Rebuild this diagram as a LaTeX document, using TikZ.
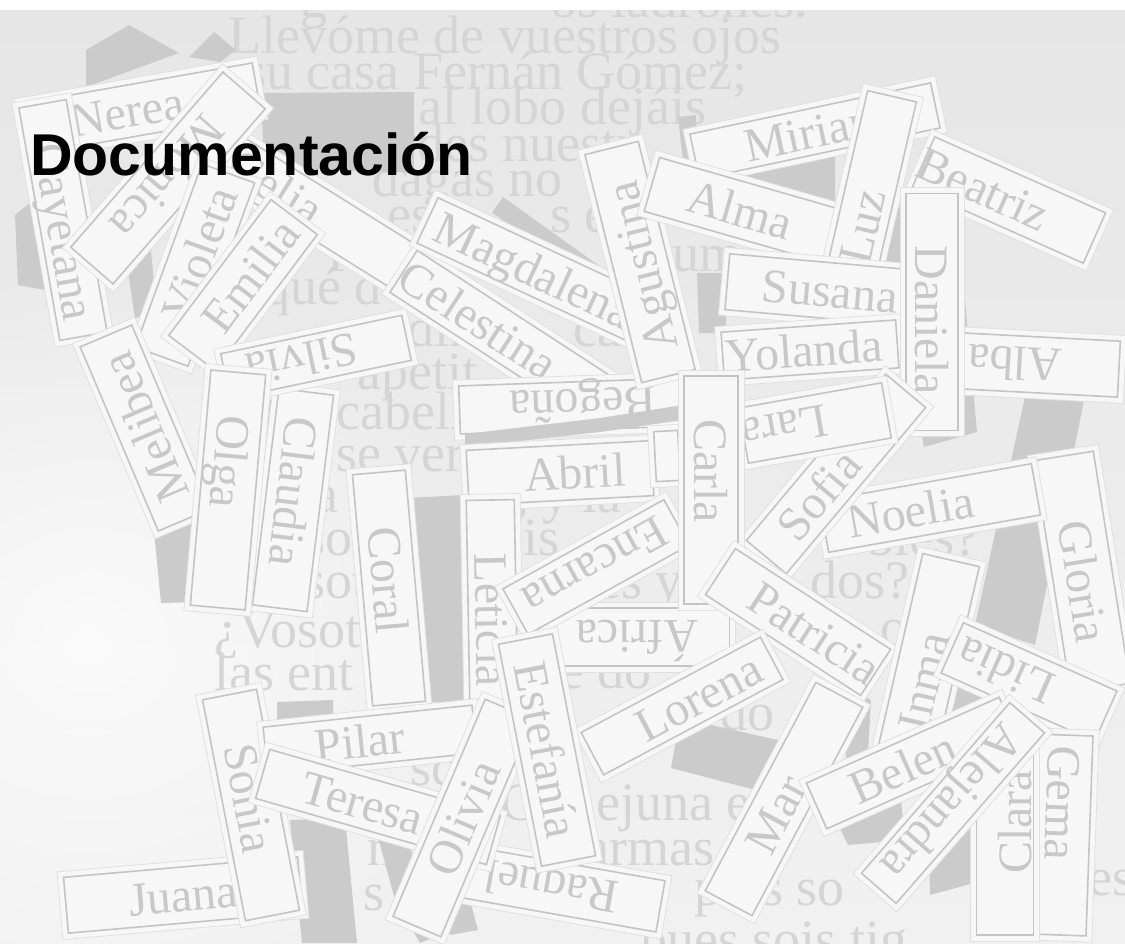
\documentclass[tikz,border=0pt]{standalone}
\usepackage{fontspec}
\setmainfont{Liberation Serif}
\newfontfamily\titlefont{Liberation Sans}
\usetikzlibrary{fadings}
\definecolor{bgtop}{HTML}{E6E6E6}
\definecolor{bgbot}{HTML}{F1F1F1}
\definecolor{paper}{HTML}{F7F7F7}
\definecolor{paperedge}{HTML}{E0E0E0}
\definecolor{tagline}{HTML}{C4C4C4}
\definecolor{tagink}{HTML}{C8C8C8}
\definecolor{shadowgray}{HTML}{CBCBCB}
\definecolor{bgink}{HTML}{D5D5D5}
\tikzfading[name=softglow, inner color=transparent!0, outer color=transparent!100]
\tikzset{
  paperfill/.style={fill=paper, draw=paperedge, line width=0.8pt},
  tagframe/.style={draw=tagline, line width=1.6pt, line join=miter},
  tagtext/.style={text=tagink, font=\fontsize{48}{48}\selectfont, inner sep=0pt, text height=33pt, text depth=0pt},
  bgtext/.style={text=bgink, font=\fontsize{54}{54}\selectfont, anchor=base west, inner sep=0pt},
  darkshape/.style={fill=shadowgray},
}
% #1 name, #2 x, #3 y, #4 angle, #5 length, #6 width, #7 text, #8 text offset (along,across)
\newcommand\nametag[8]{%
  \begin{scope}[shift={(#2,#3)},rotate=#4]
    \pgfmathsetmacro\tagHL{#5/2}%
    \pgfmathsetmacro\tagHW{#6/2}%
    \pgfmathsetmacro\tagOL{#5/2+6}%
    \pgfmathsetmacro\tagOW{#6/2+6}%
    \filldraw[paperfill] (-\tagOL,-\tagOW) -- (\tagOL,-\tagOW) -- (\tagOL,\tagOW) -- (-\tagOL,\tagOW) -- cycle;
    \draw[tagframe] (-\tagHL,-\tagHW) -- (\tagHL,-\tagHW) -- (\tagHL,\tagHW) -- (-\tagHL,\tagHW) -- cycle;
    \node[tagtext,rotate=#4] (#1) at (#8) {#7};
  \end{scope}}
\begin{document}
\begin{tikzpicture}[x=1pt,y=-1pt]
\useasboundingbox (0,0) rectangle (1125,943);
% background page
\shade[top color=bgtop, bottom color=bgbot] (0,0) rectangle (1125,943);
\fill[white, path fading=softglow, fill opacity=0.75] (90,640) ellipse (420 and 380);
% faint background text
\node[bgtext] (b1a) at (300,17) {g};
\node[bgtext] (b1b) at (550,17) {os ladrones.};
\node[bgtext] (b2) at (228,53) {Llevóme de vuestros ojos};
\node[bgtext] (b3) at (245,89) {su casa Fernán Gómez;};
\node[bgtext] (b4) at (418,124) {al lobo dejáis};
\node[bgtext] (b5) at (375,161) {ardes nuestr};
\node[bgtext] (b6) at (372,196) {dagas no};
\node[bgtext] (b7a) at (387,232) {es};
\node[bgtext] (b7b) at (550,232) {s e};
\node[bgtext] (b8a) at (327,271) {P};
\node[bgtext] (b8b) at (672,271) {um};
\node[bgtext] (b9) at (263,304) {qué d};
\node[bgtext] (b10a) at (407,346) {dir};
\node[bgtext] (b10b) at (573,346) {ca};
\node[bgtext] (b11) at (357,389) {apetit};
\node[bgtext] (b12) at (336,429) {cabell};
\node[bgtext] (b13) at (336,471) {se ver};
\node[bgtext] (b14a) at (314,512) {a};
\node[bgtext] (b14b) at (515,512) {, y la};
\node[bgtext] (b14c) at (690,512) {ía};
\node[bgtext] (b15a) at (304,555) {so};
\node[bgtext] (b15b) at (523,555) {is};
\node[bgtext] (b15c) at (867,555) {bles?};
\node[bgtext] (b16a) at (304,598) {sot};
\node[bgtext] (b16b) at (597,598) {es y};
\node[bgtext] (b16c) at (810,598) {dos?};
\node[bgtext] (b17a) at (214,647) {¿Vosot};
\node[bgtext] (b17b) at (880,645) {on};
\node[bgtext] (b18a) at (214,690) {las ent};
\node[bgtext] (b18b) at (560,688) {e do};
\node[bgtext] (b19) at (720,730) {do};
\node[bgtext] (b20) at (410,785) {sc};
\node[bgtext] (b21a) at (500,820) {C};
\node[bgtext] (b21b) at (596,820) {ejuna e};
\node[bgtext] (b22a) at (367,865) {m};
\node[bgtext] (b22b) at (585,865) {armas mi};
\node[bgtext] (b23a) at (363,910) {s};
\node[bgtext] (b23b) at (694,905) {p};
\node[bgtext] (b23c) at (738,905) {es so};
\node[bgtext] (b23d) at (1088,895) {es};
\node[bgtext] (b24a) at (640,957) {pues sois tig};
\node[bgtext] (b24b) at (1080,935) {!};
% white strip on top
\fill[white] (0,0) rectangle (1125,10);
% dark paper pieces
\fill[darkshape] (86,50) -- (129,25) -- (179,53) -- (86,87) -- cycle;
\fill[darkshape] (189,57) -- (214,32) -- (236,50) -- (220,62) -- cycle;
\fill[darkshape] (261,93) -- (414,92) -- (414,173) -- (264,167) -- cycle;
\fill[darkshape] (15,215) -- (40,195) -- (45,290) -- (18,285) -- cycle;
\fill[darkshape] (125,250) -- (150,240) -- (157,315) -- (135,318) -- cycle;
\fill[darkshape] (150,490) -- (195,470) -- (200,602) -- (161,603) -- cycle;
\fill[darkshape] (246,400) -- (279,400) -- (262,605) -- (246,605) -- cycle;
\fill[darkshape] (407,498) -- (463,495) -- (473,702) -- (415,702) -- cycle;
\fill[darkshape] (492,213) -- (503,197) -- (612,275) -- (595,280) -- cycle;
\fill[darkshape] (678,117) -- (696,115) -- (697,178) -- (685,178) -- cycle;
\fill[darkshape] (690,170) -- (835,140) -- (835,222) -- (690,180) -- cycle;
\fill[darkshape] (871,213) -- (900,207) -- (900,272) -- (871,272) -- cycle;
\fill[darkshape] (697,273) -- (726,273) -- (726,333) -- (699,333) -- cycle;
\fill[darkshape] (958,300) -- (965,300) -- (977,432) -- (924,447) -- (921,430) -- (958,420) -- cycle;
\fill[darkshape] (1028,383) -- (1085,395) -- (1035,645) -- (975,625) -- cycle;
\fill[darkshape] (680,718) -- (778,740) -- (767,793) -- (671,768) -- cycle;
\fill[darkshape] (846,687) -- (871,700) -- (867,770) -- (846,763) -- cycle;
\fill[darkshape] (933,680) -- (1000,698) -- (995,723) -- (933,713) -- cycle;
\fill[darkshape] (832,812) -- (900,790) -- (905,840) -- (848,845) -- cycle;
\fill[darkshape] (928,805) -- (985,788) -- (985,880) -- (930,895) -- cycle;
\fill[darkshape] (277,702) -- (333,700) -- (333,722) -- (277,722) -- cycle;
\fill[darkshape] (290,820) -- (345,818) -- (357,943) -- (302,943) -- cycle;
\fill[darkshape] (378,837) -- (410,847) -- (440,935) -- (420,943) -- (395,900) -- cycle;
\fill[darkshape] (440,895) -- (470,900) -- (478,930) -- (450,935) -- cycle;
% name tags, bottom to top
\nametag{nerea}{141}{109}{10}{235}{52}{Nerea}{-14,0}
\nametag{cayetana}{63}{220}{-80}{236}{48}{Cayetana}{12,0}
\nametag{celia}{305}{205}{-32}{240}{50}{Celia}{-34,0}
\nametag{monica}{168}{178}{-131}{232}{56}{Mónica}{0,0}
\nametag{violeta}{195}{265}{70}{195}{56}{Violeta}{12,0}
\nametag{emilia}{243}{285}{53}{170}{58}{Emilia}{12,0}
\nametag{melibea}{145}{428}{113}{200}{56}{Melibea}{0,0}
\nametag{claudia}{293}{500}{-97}{218}{55}{Claudia}{-8,0}
\nametag{silvia}{316}{357}{-168}{185}{46}{Silvia}{14,0}
\nametag{olga}{228}{490}{-95}{236}{55}{Olga}{-28,0}
\nametag{celestina}{500}{334}{-33}{230}{50}{Celestina}{-26,0}
\nametag{magdalena}{534}{270}{-25}{235}{50}{Magdalena}{0,0}
\nametag{begona}{572}{406}{-178}{225}{48}{Begoña}{-11,0}
\fill[darkshape] (465,447) -- (600,432) -- (683,420) -- (683,405) -- (600,418) -- (465,434) -- cycle;
\nametag{agustina}{640}{262}{104}{235}{55}{Agustina}{-5,0}
\nametag{abril}{560}{473}{3}{185}{55}{Abril}{15,0}
\nametag{blankA}{667}{456}{3}{24}{50}{}{0,0}
\nametag{miriam}{815}{131}{12}{246}{46}{Miriam}{0,0}
\nametag{alma}{748}{212}{-16}{200}{56}{Alma}{-8,0}
\nametag{beatriz}{1009}{200}{-24}{187}{55}{Beatriz}{-28,0}
\nametag{luz}{872}{183}{77}{178}{50}{Luz}{-45,0}
\nametag{susana}{822}{290}{-5}{190}{56}{Susana}{8,0}
\nametag{yolanda}{810}{350}{4}{175}{48}{Yolanda}{-6,0}
\nametag{alba}{1040}{365}{177}{158}{56}{Alba}{25,0}
\nametag{daniela}{932}{312}{-90}{237}{52}{Daniela}{8,0}
\nametag{gloria}{1082}{572}{-81}{235}{60}{Gloria}{10,0}
\nametag{noelia}{930}{508}{10}{215}{52}{Noelia}{-20,0}
\nametag{sofia}{836}{474}{50}{217}{52}{Sofia}{-27,0}
\nametag{lara}{815}{423}{-170}{145}{56}{Lara}{31,0}
\nametag{coral}{389}{588}{-85}{232}{53}{Coral}{-8,0}
\nametag{leticia}{492}{600}{-89}{200}{48}{Leticia}{20,0}
\nametag{africa}{642}{637}{180}{175}{58}{África}{5,0}
\nametag{encarna}{596}{567}{-151}{184}{52}{Encarna}{0,0}
\nametag{carla}{711}{490}{-90}{228}{54}{Carla}{-19,0}
\nametag{raquel}{562}{889}{170}{200}{52}{Raquel}{11,0}
\nametag{patricia}{798}{622}{-33}{185}{55}{Patricia}{20,0}
\nametag{lorena}{682}{706}{28}{203}{48}{Lorena}{19,0}
\nametag{inma}{928}{660}{77}{205}{58}{Inma}{-22,0}
\nametag{lidia}{1029}{682}{156}{168}{55}{Lidia}{26,0}
\nametag{mar}{784}{799}{62}{236}{53}{Mar}{-17,0}
\nametag{gema}{1062}{835}{-92}{200}{55}{Gema}{-32,0}
\nametag{belen}{913}{763}{24}{211}{50}{Belen}{-11,0}
\nametag{clara}{1005}{840}{90}{190}{57}{Clara}{18,10}
\nametag{alejandra}{953}{803}{-131}{226}{46}{Alejandra}{0,0}
\nametag{juana}{183}{895}{5}{235}{56}{Juana}{0,0}
\nametag{sonia}{251}{805}{-79}{225}{55}{Sonia}{-7,0}
\nametag{pilar}{370}{740}{6}{210}{48}{Pilar}{-10,0}
\nametag{teresa}{378}{807}{-16}{240}{51}{Teresa}{-16,0}
\nametag{olivia}{463}{818}{67}{236}{52}{Olivia}{0,0}
\nametag{estefania}{547}{750}{-79}{226}{55}{Estefanía}{0,0}
% title
\node[anchor=base west, inner sep=0pt, font=\titlefont\bfseries\fontsize{59}{59}\selectfont] (title) at (30,175) {Documentación};
\end{tikzpicture}
\end{document}
